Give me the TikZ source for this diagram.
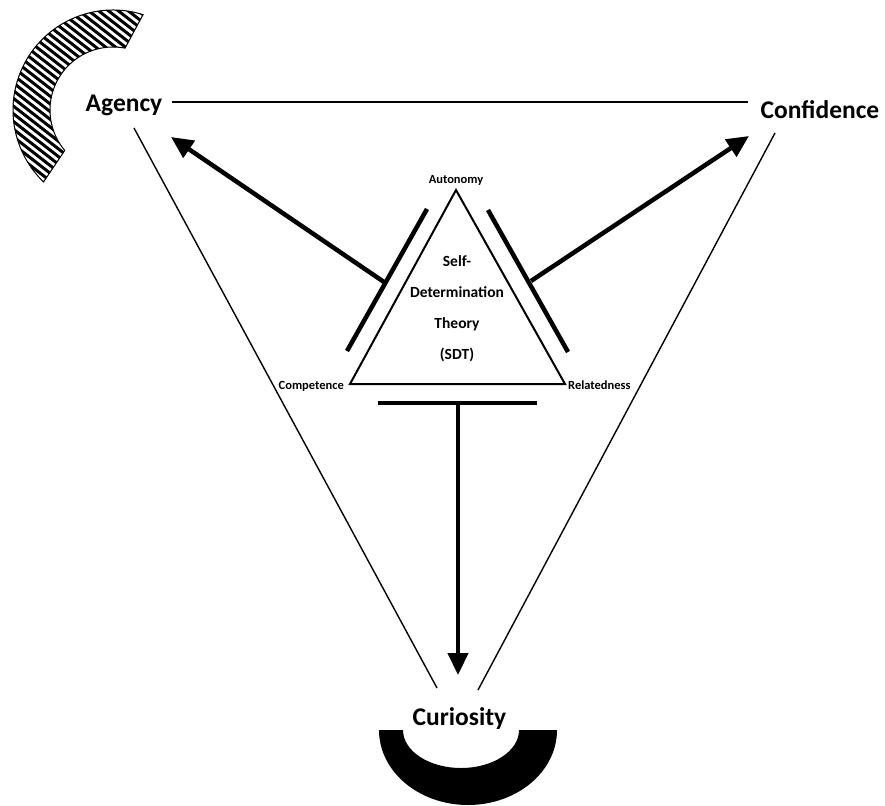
\documentclass[tikz,border=0pt]{standalone}
\usepackage{fontspec}
\setmainfont{Carlito}
\usetikzlibrary{arrows.meta}
\begin{document}
\begin{tikzpicture}[x=1pt,y=-1pt,
  big/.style={font=\fontsize{25.5}{30}\selectfont\bfseries, inner sep=0pt, anchor=base},
  small/.style={font=\fontsize{12.5}{15}\selectfont\bfseries, inner sep=0pt, anchor=base},
  thinline/.style={line width=1.4pt},
  tri/.style={line width=2pt, line join=miter},
  bar/.style={line width=4.5pt},
  arr/.style={line width=4.5pt, -{Triangle[length=22pt,width=20pt]}}]
\useasboundingbox (0,0) rectangle (885,805);

% hatched crescent (top left)
\coordinate (hc) at (113,110);
\begin{scope}
  \clip ([shift={(-72.5:100)}]hc) arc[start angle=-72.5, end angle=-226, radius=100]
    -- ([shift={(-220:63)}]hc) arc[start angle=-220, end angle=-79, radius=63] -- cycle;
  \foreach \i in {-120,-112.3,...,190}
    \draw[line width=3pt] (0,\i) -- ++(300,234);
\end{scope}
\draw[line width=1pt] ([shift={(-72.5:100)}]hc) arc[start angle=-72.5, end angle=-226, radius=100]
    -- ([shift={(-220:63)}]hc) arc[start angle=-220, end angle=-79, radius=63] -- cycle;

% black crescent (bottom)
\fill (379,730) arc[start angle=180, end angle=0, x radius=89, y radius=75]
  -- (519,730) arc[start angle=0, end angle=180, x radius=58, y radius=38] -- cycle;

% main labels
\node[big] (agency) at (124,112) {Agency};
\node[big] (confidence) at (820,119) {Confidence};
\node[big] (curiosity) at (459.5,725) {Curiosity};

% SDT triangle
\coordinate (tA) at (456,190);
\coordinate (tC) at (350,384);
\coordinate (tR) at (565,384);
\draw[tri] (tA) -- (tC) -- (tR) -- cycle;
\node[small] (autonomy) at (456,183) {Autonomy};
\node[small, anchor=base east] (competence) at (344,389) {Competence};
\node[small, anchor=base west] (relatedness) at (568,389) {Relatedness};
\node[font=\fontsize{15.5}{31}\selectfont\bfseries, align=center, inner sep=0pt] (sdt) at (457,309)
  {Self-\\Determination\\Theory\\(SDT)};

% outer thin triangle lines
\coordinate (ag1) at (172,102);
\coordinate (co1) at (748,102);
\coordinate (ag2) at (134,128);
\coordinate (cu1) at (437,688);
\coordinate (co2) at (775,133);
\coordinate (cu2) at (478,690);
\draw[thinline] (ag1) -- (co1);
\draw[thinline] (ag2) -- (cu1);
\draw[thinline] (co2) -- (cu2);

% bars
\coordinate (lb1) at (347,351);
\coordinate (lb2) at (427,209);
\coordinate (rb1) at (488,210);
\coordinate (rb2) at (568,352);
\coordinate (bb1) at (378,403);
\coordinate (bb2) at (537,403);
\draw[bar] (lb1) -- (lb2);
\draw[bar] (rb1) -- (rb2);
\draw[bar] (bb1) -- (bb2);

% arrows
\coordinate (lbm) at (384,282);
\coordinate (rbm) at (531,281);
\coordinate (bbm) at (458,403);
\coordinate (agTip) at (171,137);
\coordinate (coTip) at (749,136);
\coordinate (cuTip) at (458,675);
\draw[arr] (lbm) -- (agTip);
\draw[arr] (rbm) -- (coTip);
\draw[arr] (bbm) -- (cuTip);
\end{tikzpicture}
\end{document}
